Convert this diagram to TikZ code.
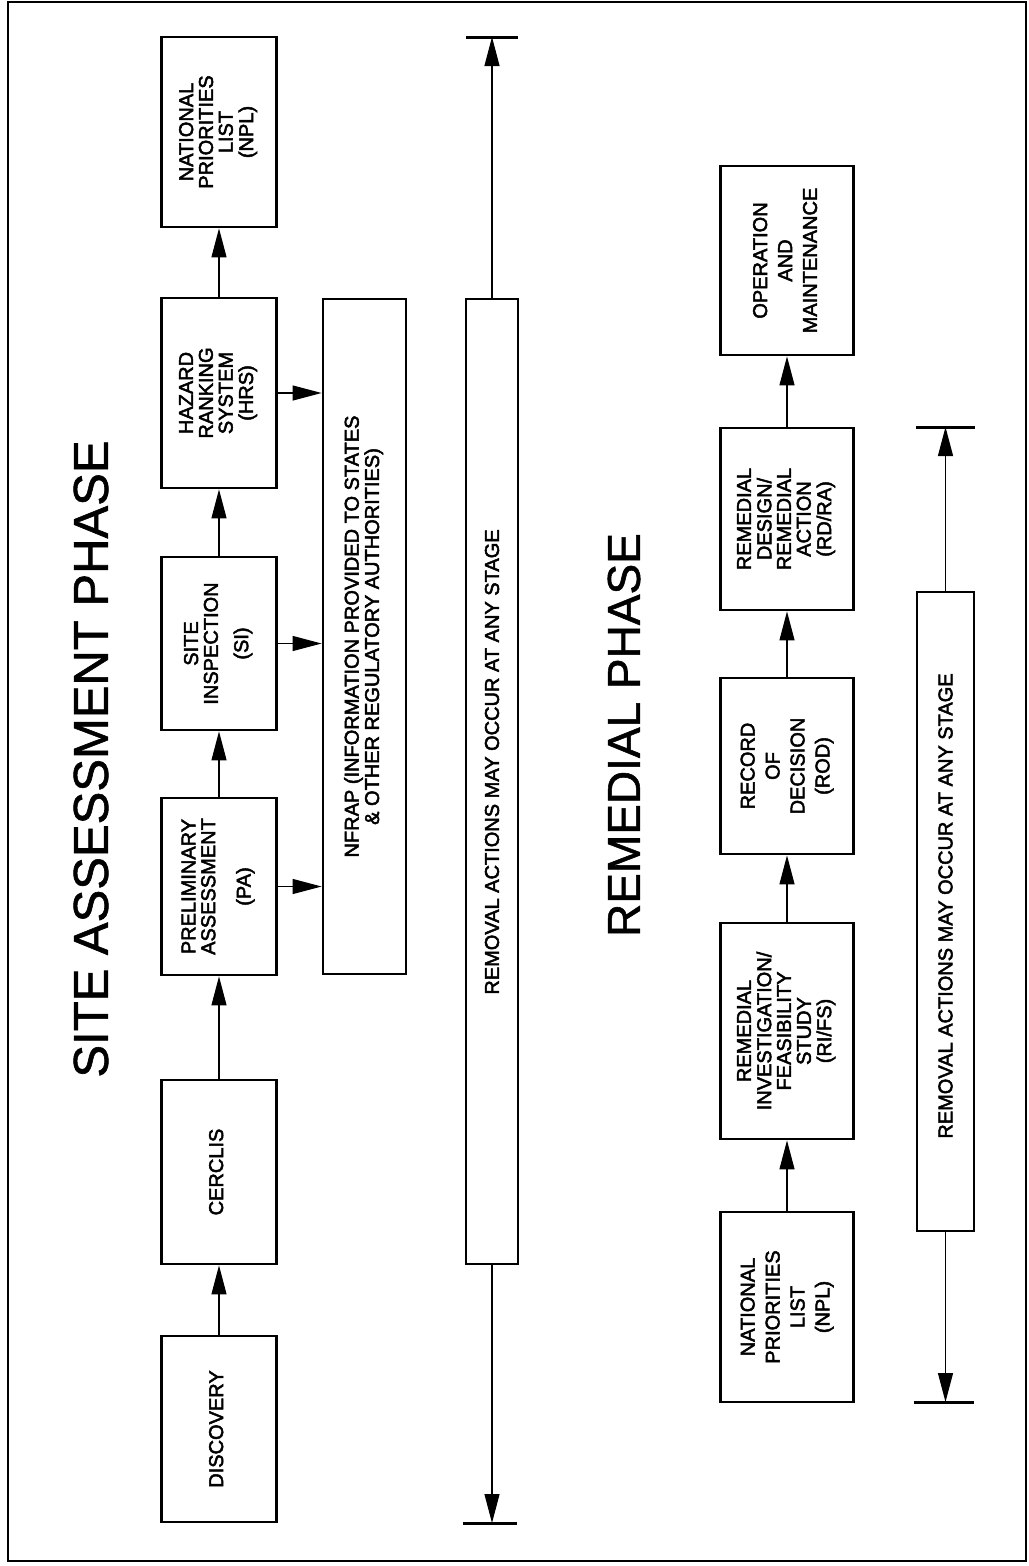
\documentclass[tikz,border=0pt]{standalone}
\usepackage{fontspec}
\setmainfont{Liberation Sans}
\newfontfamily\boxff[FakeBold=2.5]{Liberation Sans}
\newfontfamily\titleff[FakeBold=1.2]{Liberation Sans}
\usetikzlibrary{arrows.meta}
\newcommand\boxfont{\boxff\fontsize{20}{19.5}\selectfont}
\newcommand\rt[1]{\rotatebox{90}{\begin{tabular}{@{}c@{}}#1\end{tabular}}}
\newcommand\rtw[1]{\rotatebox{90}{\renewcommand\arraystretch{1.28}\begin{tabular}{@{}c@{}}#1\end{tabular}}}
\begin{document}
\begin{tikzpicture}[x=1pt,y=-1pt,
  box/.style={draw, line width=2.8pt, inner sep=0pt, font=\boxfont},
  bar/.style={draw, line width=2.2pt, inner sep=0pt},
  arr/.style={line width=1.2pt, -{Triangle[length=29pt,width=15pt]}},
  endbar/.style={line width=3pt},
  lbl/.style={font=\boxfont, rotate=90, inner sep=0pt},
  title/.style={rotate=90, inner sep=0pt}]
\useasboundingbox (0,0) rectangle (1028,1566);
\draw[line width=1.6pt] (8,2) rectangle (1026,1561);

% titles
\node[title, font=\titleff\fontsize{49}{49}\selectfont] (t1) at (91,759) {SITE ASSESSMENT PHASE};
\node[title, font=\titleff\fontsize{46}{46}\selectfont] (t2) at (624,735) {REMEDIAL PHASE};

% site assessment column
\node[box, minimum width=115pt, minimum height=190pt] (lnpl) at (219,132) {\rt{NATIONAL\\PRIORITIES\\LIST\\(NPL)}};
\node[box, minimum width=115pt, minimum height=190pt] (hrs) at (219,393) {\rt{HAZARD\\RANKING\\SYSTEM\\(HRS)}};
\node[box, minimum width=115pt, minimum height=173pt] (si) at (219,643.5) {\rt{SITE\\INSPECTION\\[10pt](SI)}};
\node[box, minimum width=115pt, minimum height=177pt] (pa) at (219,886.5) {\rt{PRELIMINARY\\ASSESSMENT\\[15pt](PA)}};
\node[box, minimum width=115pt, minimum height=184pt] (cerclis) at (219,1172) {\rt{CERCLIS}};
\node[box, minimum width=115pt, minimum height=186pt] (disc) at (219,1429) {\rt{DISCOVERY}};

\draw[arr] (disc) -- (cerclis);
\draw[arr] (cerclis) -- (pa);
\draw[arr] (pa) -- (si);
\draw[arr] (si) -- (hrs);
\draw[arr] (hrs) -- (lnpl);

% NFRAP
\node[box, minimum width=83pt, minimum height=675pt] (nfrap) at (364.5,636.5) {\rt{NFRAP (INFORMATION PROVIDED TO STATES\\\& OTHER REGULATORY AUTHORITIES)}};
\draw[arr] (hrs.east) -- (hrs.east -| nfrap.west);
\draw[arr] (si.east) -- (si.east -| nfrap.west);
\draw[arr] (pa.east) -- (pa.east -| nfrap.west);

% removal bar (site assessment)
\node[bar, minimum width=52pt, minimum height=965pt] (rem1) at (492,781.5) {};
\node[lbl] (rem1t) at (492,762) {REMOVAL ACTIONS MAY OCCUR AT ANY STAGE};
\coordinate (rem1top) at (492,37);
\coordinate (rem1bot) at (492,1523);
\draw[arr] (rem1) -- (rem1top);
\draw[arr] (rem1) -- (rem1bot);
\draw[endbar] ([xshift=-26pt]rem1top) -- ([xshift=26pt]rem1top);
\draw[endbar] ([xshift=-29pt]rem1bot) -- ([xshift=25pt]rem1bot);

% remedial column
\node[box, minimum width=133pt, minimum height=189pt] (om) at (787,260.5) {\rtw{OPERATION\\AND\\MAINTENANCE}};
\node[box, minimum width=133pt, minimum height=182pt] (rdra) at (787,519) {\rt{REMEDIAL\\DESIGN/\\REMEDIAL\\ACTION\\(RD/RA)}};
\node[box, minimum width=133pt, minimum height=176pt] (rod) at (787,766) {\rtw{RECORD\\OF\\DECISION\\(ROD)}};
\node[box, minimum width=133pt, minimum height=216pt] (rifs) at (787,1031) {\rt{REMEDIAL\\INVESTIGATION/\\FEASIBILITY\\STUDY\\(RI/FS)}};
\node[box, minimum width=133pt, minimum height=190pt] (rnpl) at (787,1307) {\rtw{NATIONAL\\PRIORITIES\\LIST\\(NPL)}};

\draw[arr] (rnpl) -- (rifs);
\draw[arr] (rifs) -- (rod);
\draw[arr] (rod) -- (rdra);
\draw[arr] (rdra) -- (om);

% removal bar (remedial)
\node[bar, minimum width=57pt, minimum height=639pt] (rem2) at (945.5,911.5) {};
\node[lbl] (rem2t) at (945.5,906) {REMOVAL ACTIONS MAY OCCUR AT ANY STAGE};
\coordinate (rem2top) at (945.5,427);
\coordinate (rem2bot) at (945.5,1402);
\draw[arr] (rem2) -- (rem2top);
\draw[arr] (rem2) -- (rem2bot);
\draw[endbar] ([xshift=-29.5pt]rem2top) -- ([xshift=29.5pt]rem2top);
\draw[endbar] ([xshift=-32pt]rem2bot) -- ([xshift=28pt]rem2bot);
\end{tikzpicture}
\end{document}
